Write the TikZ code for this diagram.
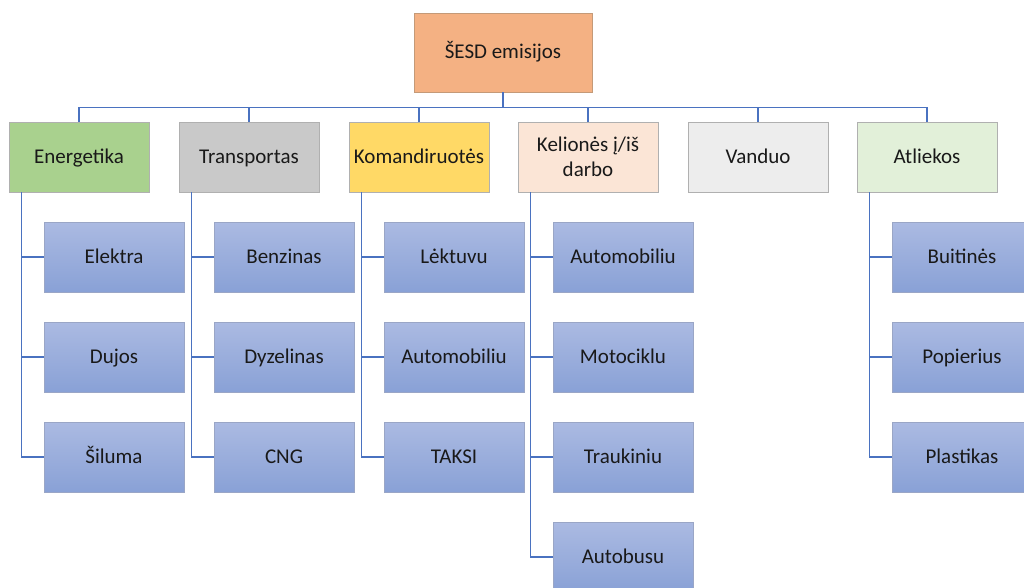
\documentclass[tikz,border=0pt]{standalone}
\usepackage{fontspec}
\setmainfont{Carlito}

\definecolor{linkblue}{HTML}{4A72C0}
\definecolor{edgegray}{HTML}{B0B0B0}
\definecolor{sesdorange}{HTML}{F4B183}
\definecolor{sesdedge}{HTML}{C49A78}
\definecolor{energgreen}{HTML}{A9D18E}
\definecolor{transpgray}{HTML}{C9C9C9}
\definecolor{komanyellow}{HTML}{FFD966}
\definecolor{keliopeach}{HTML}{FBE5D6}
\definecolor{vandgray}{HTML}{EDEDED}
\definecolor{atliegreen}{HTML}{E2F0D9}
\definecolor{leaftop}{HTML}{ABBAE2}
\definecolor{leafbot}{HTML}{89A1D6}
\definecolor{leafedge}{HTML}{9AA6C6}

\begin{document}
\begin{tikzpicture}[x=1pt,y=1pt,font=\fontsize{21}{25}\selectfont,
  box/.style={draw=edgegray, line width=0.8pt, minimum width=140pt, minimum height=70pt, inner sep=0pt, align=center, text=black!90},
  oneline/.style={box, text height=16pt, text depth=4pt},
  leaf/.style={oneline, draw=leafedge, top color=leaftop, bottom color=leafbot},
  link/.style={draw=linkblue, line width=1.3pt}]

\useasboundingbox (0,0) rectangle (1024,-587);
\clip (0,0) rectangle (1024,-587);

\node[oneline, draw=sesdedge, fill=sesdorange, minimum width=178pt, minimum height=79pt] (sesd) at (503,-52.5) {ŠESD emisijos};

% categories
\node[oneline, fill=energgreen] (energ) at (79,-157) {Energetika};
\node[oneline, fill=transpgray] (transp) at (249,-157) {Transportas};
\node[oneline, fill=komanyellow] (koman) at (419,-157) {Komandiruotės};
\node[box, fill=keliopeach] (kelio) at (588,-157) {Kelionės į/iš\\darbo};
\node[oneline, fill=vandgray] (vand) at (758,-157) {Vanduo};
\node[oneline, fill=atliegreen] (atlie) at (927,-157) {Atliekos};

\foreach \cat in {energ, transp, koman, kelio, vand, atlie}
  \draw[link] (sesd.south) -- ++(0,-15) -| (\cat.north);

% children
\foreach \cat/\list in {energ/{Elektra,Dujos,Šiluma},
                        transp/{Benzinas,Dyzelinas,CNG},
                        koman/{Lėktuvu,Automobiliu,TAKSI},
                        kelio/{Automobiliu,Motociklu,Traukiniu,Autobusu},
                        atlie/{Buitinės,Popierius,Plastikas}}
  {
  \foreach \t [count=\i] in \list
    {
    \path (\cat.center) ++(35,-100*\i) node[leaf] (\cat-\i) {\t};
    \draw[link] ([xshift=13pt]\cat.south west) |- (\cat-\i.west);
    }
  }

\end{tikzpicture}
\end{document}
